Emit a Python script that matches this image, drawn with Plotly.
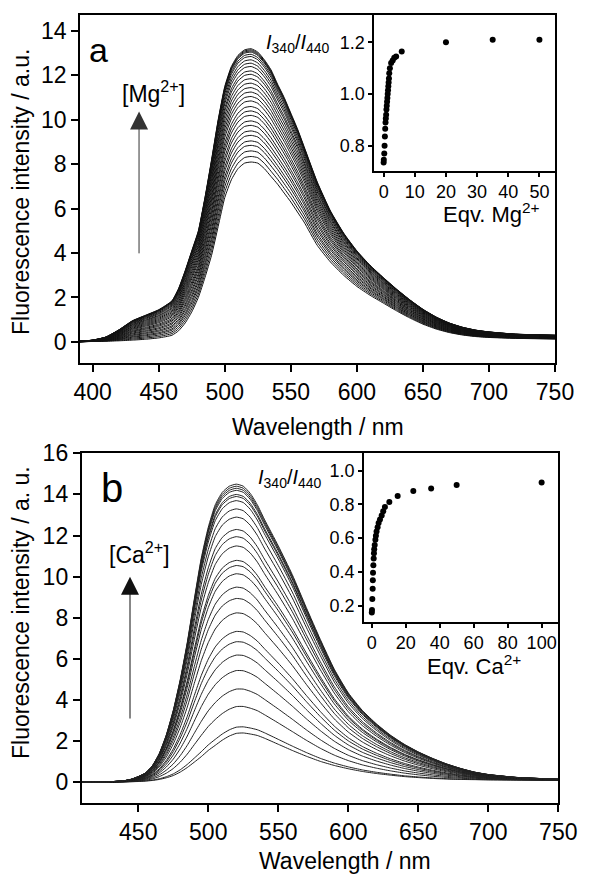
import plotly.graph_objects as go

# ---------------- data ----------------
# Panel a: emission spectra with Mg2+
wl_a = [390, 400, 410, 420, 430, 440, 450, 460, 465, 470, 475, 480, 485, 490, 495,
        500, 505, 510, 515, 520, 525, 530, 535, 540, 545, 550, 555, 560, 570, 580,
        590, 600, 610, 620, 630, 640, 650, 660, 670, 680, 690, 700, 720, 750]
low_a = [0.0, 0.02, 0.03, 0.05, 0.08, 0.12, 0.18, 0.3, 0.5, 0.85, 1.35, 2.0, 2.9, 3.9, 5.2,
         6.5, 7.3, 7.8, 8.05, 8.1, 8.05, 7.8, 7.45, 7.1, 6.7, 6.3, 5.85, 5.4, 4.35, 3.6,
         3.0, 2.5, 2.1, 1.75, 1.4, 1.08, 0.8, 0.58, 0.42, 0.31, 0.24, 0.2, 0.16, 0.13]
high_a = [0.03, 0.08, 0.22, 0.55, 0.95, 1.2, 1.45, 1.85, 2.4, 3.2, 4.1, 5.0, 6.5, 8.2, 10.0,
          11.5, 12.4, 12.9, 13.15, 13.2, 13.05, 12.7, 12.25, 11.6, 11.0, 10.3, 9.6, 8.8, 7.2, 5.9,
          4.9, 4.1, 3.45, 2.9, 2.38, 1.9, 1.47, 1.12, 0.85, 0.66, 0.53, 0.45, 0.35, 0.3]
peaks_a = [8.1, 8.35, 8.6, 8.85, 9.05, 9.3, 9.5, 9.75, 9.95, 10.2, 10.4, 10.6, 10.85, 11.05,
           11.25, 11.45, 11.65, 11.85, 12.05, 12.2, 12.4, 12.55, 12.7, 12.85, 12.95, 13.05,
           13.1, 13.15, 13.2]
eqv_mg = [0, 0.05, 0.2, 0.3, 0.4, 0.5, 0.6, 0.7, 0.8, 0.9, 1.0, 1.1, 1.2, 1.3, 1.4, 1.5,
          1.6, 1.7, 1.8, 2.0, 2.4, 2.9, 3.4, 4.0, 5.8, 20, 35, 50]
ratio_mg = [0.735, 0.745, 0.77, 0.80, 0.835, 0.865, 0.89, 0.905, 0.92, 0.94, 0.955, 0.97,
            0.985, 1.0, 1.015, 1.03, 1.045, 1.06, 1.08, 1.1, 1.12, 1.13, 1.14, 1.145, 1.165,
            1.2, 1.21, 1.21]

# Panel b: emission spectra with Ca2+
wl_b = [410, 420, 430, 440, 445, 450, 455, 460, 465, 470, 475, 480, 485, 490, 495,
        500, 505, 510, 515, 520, 525, 530, 535, 540, 550, 560, 570, 580, 590, 600,
        610, 620, 630, 640, 650, 660, 670, 680, 690, 700, 720, 750]
low_b = [0.0, 0.0, 0.01, 0.02, 0.03, 0.04, 0.06, 0.09, 0.14, 0.22, 0.33, 0.5, 0.72, 0.98, 1.25,
         1.55, 1.8, 2.05, 2.25, 2.38, 2.4, 2.35, 2.28, 2.15, 1.85, 1.55, 1.27, 1.02, 0.82, 0.66,
         0.53, 0.43, 0.35, 0.28, 0.23, 0.19, 0.16, 0.14, 0.13, 0.12, 0.11, 0.1]
high_b = [0.0, 0.01, 0.03, 0.08, 0.15, 0.28, 0.45, 0.8, 1.4, 2.3, 3.5, 5.0, 6.8, 8.9, 10.9,
          12.4, 13.5, 14.1, 14.4, 14.5, 14.4, 14.05, 13.5, 12.8, 11.5, 10.1, 8.5, 6.95, 5.5, 4.35,
          3.5, 2.85, 2.3, 1.85, 1.48, 1.17, 0.9, 0.68, 0.5, 0.38, 0.24, 0.15]
peaks_b = [2.4, 2.7, 3.7, 4.55, 5.45, 6.2, 6.85, 7.35, 8.25, 8.95, 9.5, 10.15, 10.55, 10.8,
           11.5, 11.95, 12.3, 12.9, 13.3, 13.7, 13.9, 14.0, 14.2, 14.3, 14.4, 14.5]
eqv_ca = [0.1, 0.2, 0.4, 0.6, 0.7, 0.8, 1.0, 1.2, 1.35, 1.5, 1.8, 2.2, 2.5, 2.9, 3.5, 4.1,
          4.9, 5.9, 6.8, 7.8, 10.4, 15.3, 24.5, 35, 50, 100]
ratio_ca = [0.16, 0.175, 0.24, 0.30, 0.35, 0.395, 0.44, 0.48, 0.51, 0.535, 0.56, 0.59, 0.615,
            0.64, 0.665, 0.69, 0.71, 0.735, 0.76, 0.785, 0.815, 0.85, 0.88, 0.895, 0.915, 0.93]

# ---------------- figure ----------------
# The page body keeps its default 8 px margin, so the figure is 16 px smaller than the window
OFF = 8
W, H = 591 - 2 * OFF, 883 - 2 * OFF
FONT = "Liberation Sans, Arial, sans-serif"
fig = go.Figure()


def add_family(wl, low, high, peaks, xa, ya, color):
    pmin, pmax = max(low), max(high)
    for p in peaks:
        w = (p - pmin) / (pmax - pmin)
        y = [l + w * (h - l) for l, h in zip(low, high)]
        fig.add_trace(go.Scatter(x=wl, y=y, mode="lines",
                                 line=dict(color=color, width=1, shape="spline", smoothing=0.5),
                                 xaxis=xa, yaxis=ya, showlegend=False, hoverinfo="skip"))


add_family(wl_a, low_a, high_a, peaks_a, "x", "y", "#111111")
add_family(wl_b, low_b, high_b, peaks_b, "x3", "y3", "#222222")

fig.add_trace(go.Scatter(x=eqv_mg, y=ratio_mg, mode="markers",
                         marker=dict(color="black", size=6), xaxis="x2", yaxis="y2",
                         showlegend=False))
fig.add_trace(go.Scatter(x=eqv_ca, y=ratio_ca, mode="markers",
                         marker=dict(color="black", size=6), xaxis="x4", yaxis="y4",
                         showlegend=False))


def px_x(p):
    return (p - OFF) / W


def px_y(p):
    return 1 - (p - OFF) / H


def ax(domain, rng, dtick, size, ticklen, fmt=None, anchor=None):
    d = dict(domain=domain, range=rng, dtick=dtick, tick0=0, showline=True, linewidth=1.8,
             linecolor="black", mirror=True, ticks="outside", ticklen=ticklen, tickwidth=1.5,
             tickcolor="black", showgrid=False, zeroline=False, automargin=False,
             tickfont=dict(family=FONT, size=size, color="black"))
    if fmt:
        d["tickformat"] = fmt
    if anchor:
        d["anchor"] = anchor
    return d


fig.update_layout(
    width=W, height=H, margin=dict(l=0, r=0, t=0, b=0, autoexpand=False),
    paper_bgcolor="white", plot_bgcolor="white", showlegend=False,
    xaxis=ax([px_x(80), px_x(555)], [390.4, 750], 50, 23, 7, anchor="y"),
    yaxis=ax([px_y(363), px_y(15)], [-0.95, 14.72], 2, 23, 7, anchor="x"),
    xaxis2=ax([px_x(374.3), px_x(555)], [-3, 55], 10, 18, 4, anchor="y2"),
    yaxis2=ax([px_y(170.7), px_y(15)], [0.703, 1.306], 0.2, 18, 4, fmt=".1f", anchor="x2"),
    xaxis3=ax([px_x(81.7), px_x(558.3)], [409.6, 750], 50, 23, 7, anchor="y3"),
    yaxis3=ax([px_y(803.3), px_y(453.3)], [-1.02, 16], 2, 23, 7, anchor="x3"),
    xaxis4=ax([px_x(364), px_x(558.3)], [-4.5, 109.8], 20, 18, 4, anchor="y4"),
    yaxis4=ax([px_y(621.7), px_y(453.3)], [0.105, 1.103], 0.2, 18, 4, fmt=".1f", anchor="x4"),
)

ann = []


def text(x, y, s, size, angle=0, xanchor="center"):
    ann.append(dict(x=px_x(x), y=px_y(y), xref="paper", yref="paper", text=s, showarrow=False,
                    textangle=angle, xanchor=xanchor, yanchor="middle",
                    font=dict(family=FONT, size=size, color="black")))


# axis titles
text(21, 192, "Fluorescence intensity / a.u.", 23, -90)
text(318, 427, "Wavelength / nm", 23)
text(21, 613, "Fluorescence intensity / a. u.", 23, -90)
text(345, 861, "Wavelength / nm", 23)
text(491, 213, "Eqv. Mg<sup>2+</sup>", 22)
text(474, 665, "Eqv. Ca<sup>2+</sup>", 22)
# ratio labels
text(298, 44, "<i>I</i><sub>340</sub>/<i>I</i><sub>440</sub>", 20)
text(290, 478, "<i>I</i><sub>340</sub>/<i>I</i><sub>440</sub>", 20)
# panel letters
text(98, 50, "a", 34)
text(112, 488, "b", 40)
# concentration labels
text(153, 92, "[Mg<sup>2+</sup>]", 23)
text(139, 553, "[Ca<sup>2+</sup>]", 23)

# arrows (data coordinates)
ann.append(dict(x=435.1, y=10.37, ax=435.1, ay=3.92, xref="x", yref="y", axref="x", ayref="y",
                text="", showarrow=True, arrowhead=2, arrowsize=3.6, arrowwidth=1,
                arrowcolor="#333333"))
ann.append(dict(x=444.1, y=10.0, ax=444.1, ay=3.03, xref="x3", yref="y3", axref="x3", ayref="y3",
                text="", showarrow=True, arrowhead=2, arrowsize=3.6, arrowwidth=1,
                arrowcolor="#111111"))

fig.update_layout(annotations=ann)
fig.write_html("out.html")
